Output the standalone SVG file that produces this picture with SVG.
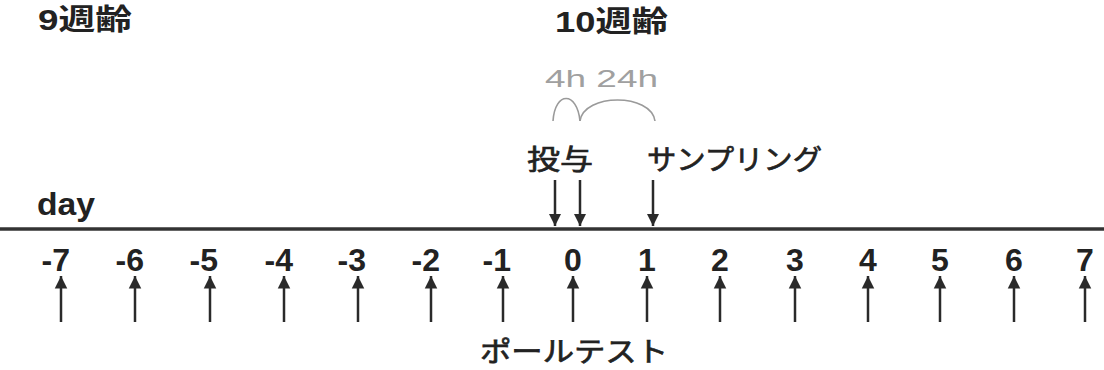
<svg xmlns="http://www.w3.org/2000/svg" width="1104" height="370" viewBox="0 0 1104 370">
<defs>
<style>
.t{font-family:"Liberation Sans","Noto Sans CJK JP",Arial,sans-serif;fill:#222}
.title{font-size:29px;font-weight:bold}
.num{font-size:32px;font-weight:bold}
.jp{font-size:28px;stroke:#222;stroke-width:0.7}
.gray{font-size:24px;fill:#a0a0a0}
.ax{stroke:#333;stroke-width:3.5;fill:none}
.arr{stroke:#2a2a2a;stroke-width:2.5;fill:none}
.arc{stroke:#9a9a9a;stroke-width:1.6;fill:none}
</style>
<marker id="ah" viewBox="0 0 10 10" refX="10" refY="5" markerWidth="5" markerHeight="6.5" markerUnits="strokeWidth" orient="auto">
<path d="M0,0 L10,5 L0,10 z" fill="#2a2a2a"/>
</marker>
</defs>
<rect width="1104" height="370" fill="#fff"/>
<g id="titles">
<text class="t title" x="38" y="30" textLength="94" lengthAdjust="spacingAndGlyphs">9週齢</text>
<text class="t title" x="555" y="32" textLength="113" lengthAdjust="spacingAndGlyphs">10週齢</text>
</g>
<g id="intervals">
<text class="t gray" x="545" y="87" textLength="113" lengthAdjust="spacingAndGlyphs">4h 24h</text>
<path class="arc" d="M553,121 C555,91 577,91 580,121"/>
<path class="arc" d="M580,121 C584,93 651,93 655,121"/>
</g>
<g id="events">
<text class="t jp" x="527" y="170" textLength="66" lengthAdjust="spacingAndGlyphs">投与</text>
<text class="t jp" x="647" y="170" textLength="175" lengthAdjust="spacingAndGlyphs">サンプリング</text>
</g>
<g id="axis">
<text class="t num" x="37" y="215" font-size="31" textLength="58" lengthAdjust="spacingAndGlyphs">day</text>
<line class="ax" x1="0" y1="229" x2="1104" y2="229"/>
</g>
<g id="numbers" class="t num">
<text x="70" y="271" text-anchor="end">-7</text>
<text x="144" y="271" text-anchor="end">-6</text>
<text x="218" y="271" text-anchor="end">-5</text>
<text x="293" y="271" text-anchor="end">-4</text>
<text x="366" y="271" text-anchor="end">-3</text>
<text x="440" y="271" text-anchor="end">-2</text>
<text x="511" y="271" text-anchor="end">-1</text>
<text x="573" y="271" text-anchor="middle">0</text>
<text x="647" y="271" text-anchor="middle">1</text>
<text x="720" y="271" text-anchor="middle">2</text>
<text x="795" y="271" text-anchor="middle">3</text>
<text x="868" y="271" text-anchor="middle">4</text>
<text x="940" y="271" text-anchor="middle">5</text>
<text x="1014" y="271" text-anchor="middle">6</text>
<text x="1085" y="271" text-anchor="middle">7</text>
</g>
<g id="connectors" class="arr" marker-end="url(#ah)">
<line x1="555" y1="180" x2="555" y2="226"/>
<line x1="580" y1="180" x2="580" y2="226"/>
<line x1="653" y1="180" x2="653" y2="226"/>
<line x1="61" y1="322" x2="61" y2="276"/>
<line x1="135" y1="322" x2="135" y2="276"/>
<line x1="210" y1="322" x2="210" y2="276"/>
<line x1="284" y1="322" x2="284" y2="276"/>
<line x1="358" y1="322" x2="358" y2="276"/>
<line x1="431" y1="322" x2="431" y2="276"/>
<line x1="503" y1="322" x2="503" y2="276"/>
<line x1="573" y1="322" x2="573" y2="276"/>
<line x1="647" y1="322" x2="647" y2="276"/>
<line x1="720" y1="322" x2="720" y2="276"/>
<line x1="795" y1="322" x2="795" y2="276"/>
<line x1="868" y1="322" x2="868" y2="276"/>
<line x1="940" y1="322" x2="940" y2="276"/>
<line x1="1014" y1="322" x2="1014" y2="276"/>
<line x1="1085" y1="322" x2="1085" y2="276"/>
</g>
<g id="poletest">
<text class="t jp" x="480" y="362" font-size="30" textLength="188" lengthAdjust="spacingAndGlyphs">ポールテスト</text>
</g>
</svg>
